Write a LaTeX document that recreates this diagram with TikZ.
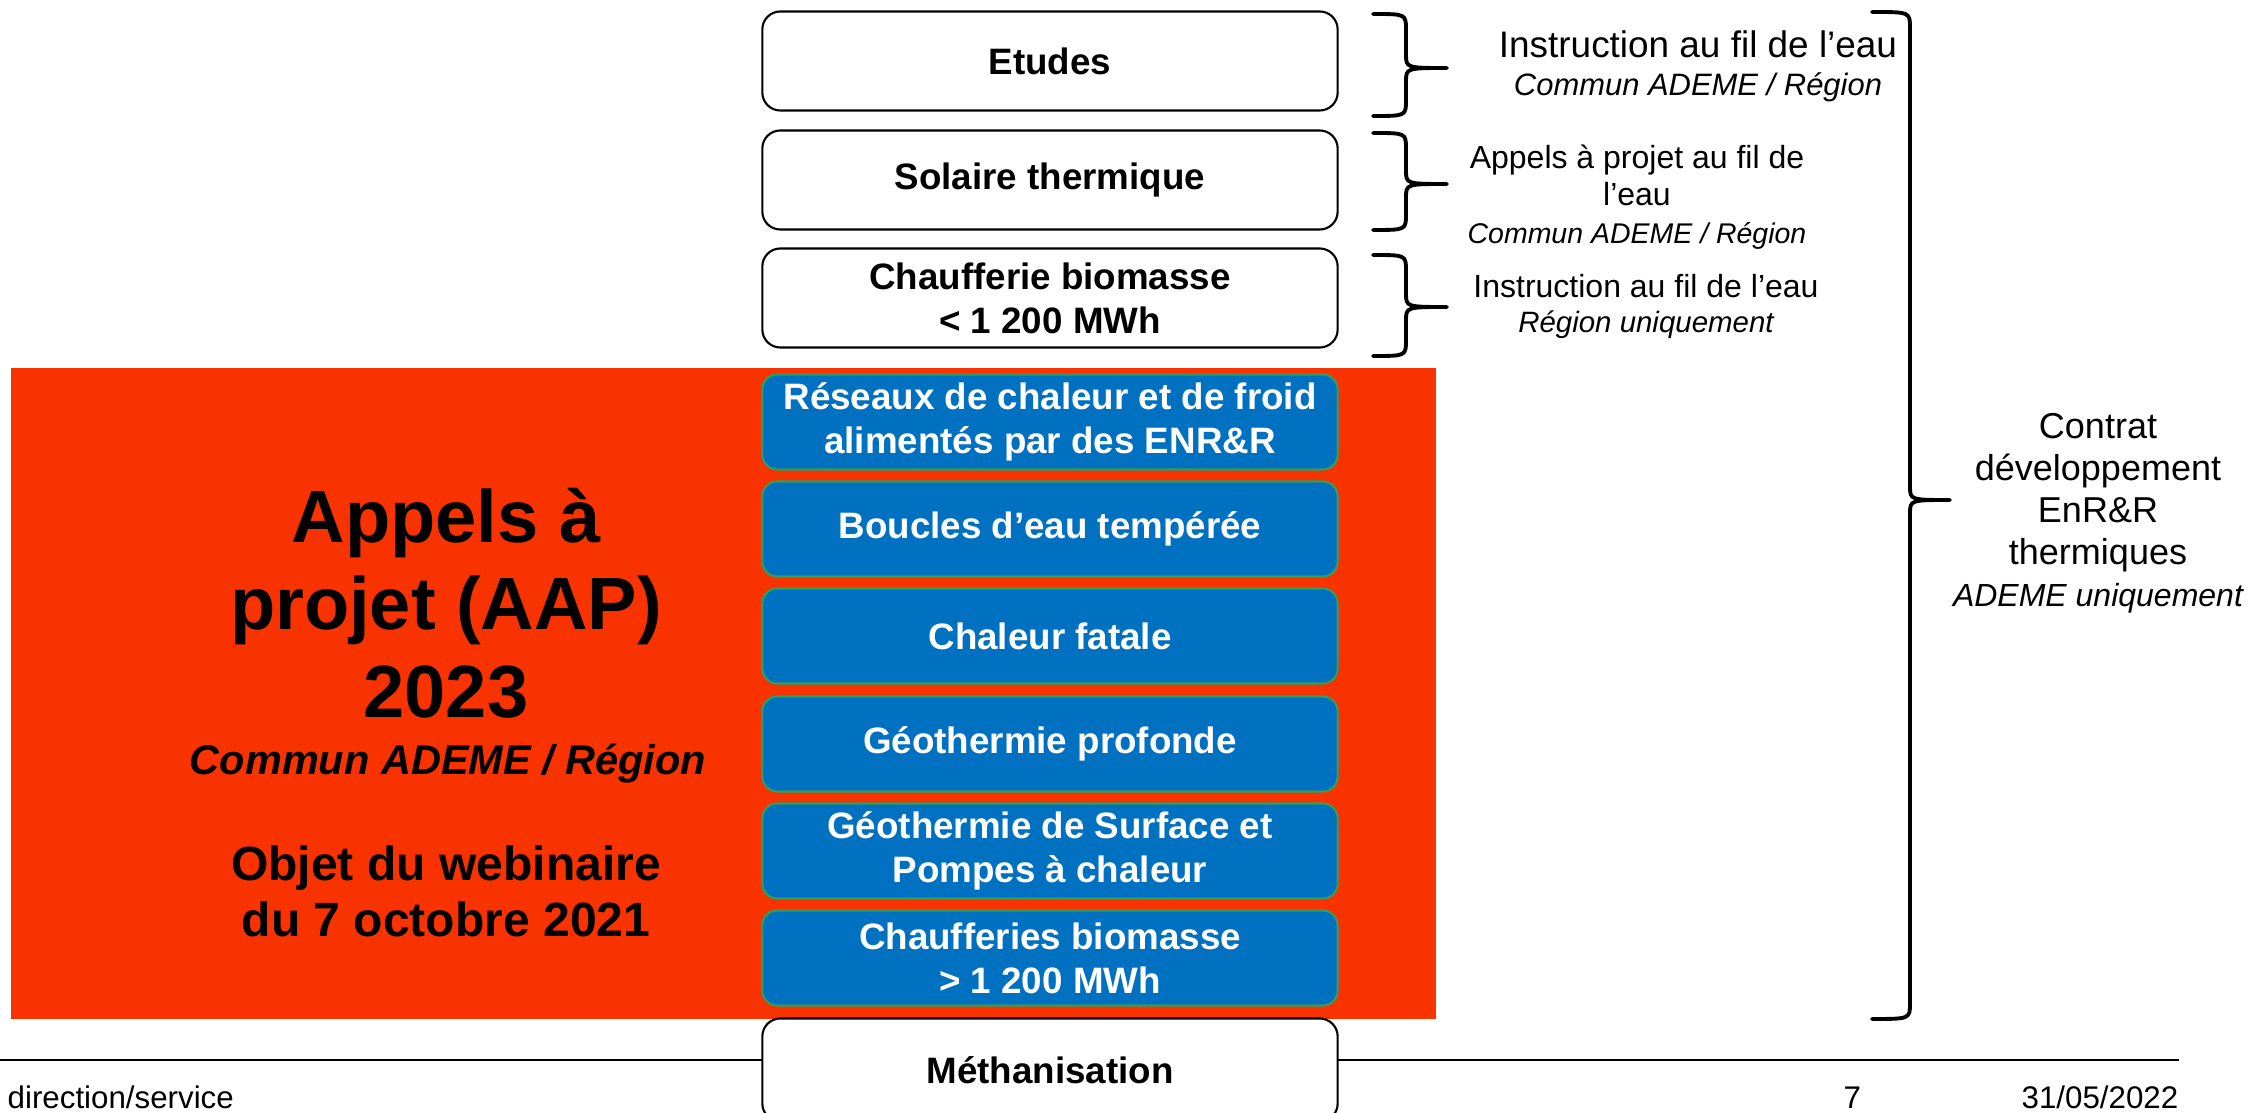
\documentclass[tikz,border=0pt]{standalone}
\usepackage{fontspec}
\setmainfont{Liberation Sans}
\usepackage{xcolor}
\usepackage{tikz}
\definecolor{aapred}{HTML}{F83300}
\definecolor{aapblue}{HTML}{0070C0}
\definecolor{aapedge}{HTML}{2E9E62}
\newcommand{\fsz}[2]{\fontsize{#1}{#2}\selectfont}
% right curly brace: end x, stem x, tip x, top y, tip y, bottom y
\newcommand{\drawcurly}[6]{%
  \draw[brc] (#1,#4) .. controls (#2,#4) .. (#2,{#4+16}) -- (#2,{#5-14})
    .. controls (#2,#5) .. (#3,#5) .. controls (#2,#5) .. (#2,{#5+14})
    -- (#2,{#6-16}) .. controls (#2,#6) .. (#1,#6);}
\tikzset{
  wbox/.style={draw=black, fill=white, line width=0.6pt, rounded corners=0.18cm, minimum width=5.75cm, minimum height=0.99cm, inner sep=0pt, align=center, font=\fsz{10.45}{12.5}\bfseries},
  bbox/.style={draw=aapedge, fill=aapblue, text=white, line width=0.6pt, rounded corners=0.15cm, minimum width=5.75cm, minimum height=0.95cm, inner sep=0pt, align=center, font=\fsz{10.45}{12.5}\bfseries},
  brc/.style={draw=black, line width=1.1pt, line cap=round, line join=round},
  note/.style={align=center, inner sep=0pt, font=\fsz{9.1}{10.7}},
  foot/.style={inner sep=0pt, font=\fsz{8.9}{10}},
}

\begin{document}
\begin{tikzpicture}[x=0.01cm, y=-0.01cm]
  \useasboundingbox (0,0) rectangle (2250,1113);

  % AAP block
  \fill[aapred] (11,368) rectangle (1436,1019);
  \node[align=center, inner sep=0pt, font=\fsz{21.06}{24.9}\bfseries] (aap) at (446,603) {Appels à\\projet (AAP)\\2023};
  \node[inner sep=0pt, anchor=base, font=\fsz{11.8}{14}\bfseries\itshape] (aapcommun) at (448,775) {Commun ADEME / Région};
  \node[align=center, inner sep=0pt, font=\fsz{13.66}{15.9}\bfseries] (webinaire) at (446,891) {Objet du webinaire\\du 7 octobre 2021};

  \node[bbox] (reseaux) at (1050,422) {Réseaux de chaleur et de froid\\alimentés par des ENR\&R};
  \node[bbox] (boucles) at (1050,529) {Boucles d’eau tempérée};
  \node[bbox] (fatale) at (1050,636) {Chaleur fatale};
  \node[bbox] (geoprof) at (1050,744) {Géothermie profonde};
  \node[bbox] (geosurf) at (1050,851) {Géothermie de Surface et\\Pompes à chaleur};
  \node[bbox] (biogros) at (1050,958) {Chaufferies biomasse\\> 1 200 MWh};

  % other aids
  \node[wbox] (etudes) at (1050,61) {Etudes};
  \node[wbox] (solaire) at (1050,180) {Solaire thermique};
  \node[wbox] (biopetit) at (1050,298) {Chaufferie biomasse\\< 1 200 MWh};

  % footer
  \draw[line width=0.85pt] (0,1060) -- (2179,1060);
  \node[wbox, minimum height=1.03cm] (metha) at (1050,1070) {Méthanisation};
  \node[foot, anchor=base west] (direction) at (7,1109) {direction/service};
  \node[foot, anchor=base west] (page) at (1843,1109) {7};
  \node[foot, anchor=base east] (date) at (2179,1109) {31/05/2022};

  % braces and their notes
  \drawcurly{1373}{1406}{1447}{14}{68}{116}
  \drawcurly{1373}{1406}{1447}{133}{184}{230}
  \drawcurly{1373}{1406}{1447}{255}{307}{356}
  \drawcurly{1872}{1910}{1950}{12}{500}{1019}
  \node[note, font=\fsz{10.5}{10.8}] (n-etudes) at (1698,66) {Instruction au fil de l’eau\\{\fsz{8.8}{10.8}\itshape Commun ADEME / Région}};
  \node[note, font=\fsz{9.1}{10.67}] (n-solaire) at (1637,197) {Appels à projet au fil de\\l’eau\\{\fsz{8.1}{10.67}\itshape Commun ADEME / Région}};
  \node[note, font=\fsz{9.1}{9.96}] (n-biopetit) at (1646,306) {Instruction au fil de l’eau\\{\fsz{8.37}{9.96}\itshape Région uniquement}};
  \node[note, font=\fsz{10.24}{11.95}] (n-contrat) at (2098,513) {Contrat\\développement\\EnR\&R\\thermiques\\{\fsz{9.1}{11.95}\itshape ADEME uniquement}};
\end{tikzpicture}
\end{document}
